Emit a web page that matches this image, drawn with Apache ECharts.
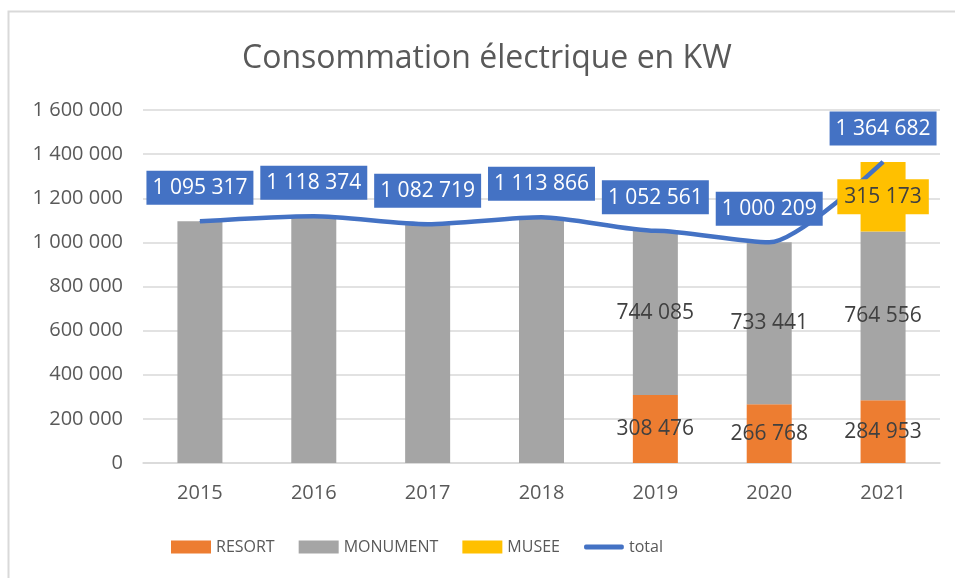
<!DOCTYPE html>
<html>
<head>
<meta charset="utf-8">
<script src="https://cdn.jsdelivr.net/npm/echarts@6/dist/echarts.min.js"></script>
<style>html,body{margin:0;padding:0;background:#fff}#c{width:955px;height:578px}</style>
</head>
<body>
<div id="c"></div>
<script>
var years = ['2015','2016','2017','2018','2019','2020','2021'];
var resort = [null, null, null, null, 308476, 266768, 284953];
var monument = [1095317, 1118374, 1082719, 1113866, 744085, 733441, 764556];
var monumentLabelShown = [false, false, false, false, true, true, true];
var musee = [null, null, null, null, null, null, 315173];
var total = [1095317, 1118374, 1082719, 1113866, 1052561, 1000209, 1364682];
var yTicks = [0, 200000, 400000, 600000, 800000, 1000000, 1200000, 1400000, 1600000];

var FONT = "'Open Sans', 'Noto Sans', sans-serif";
function fmt(v){ return String(Math.round(v)).replace(/\B(?=(\d{3})+(?!\d))/g, ' '); }

// label anchor for MUSEE segment (middle of its stacked segment), drawn above the line
var museeLabelPts = [];
years.forEach(function(y, i){
  if (musee[i] != null) {
    var base = (resort[i] || 0) + (monument[i] || 0);
    museeLabelPts.push({value:[y, base + musee[i] / 2], raw: musee[i]});
  }
});

var chart = echarts.init(document.getElementById('c'), null, {renderer:'canvas'});
chart.setOption({
  animation:false,
  backgroundColor:'#fff',
  textStyle:{fontFamily:FONT},
  title:{
    text:'Consommation électrique en KW',
    left:237, top:38,
    textStyle:{fontFamily:FONT, fontSize:32, fontWeight:'normal', color:'#595959'}
  },
  graphic:[{type:'rect', shape:{x:8.5, y:11.5, width:2000, height:2000}, style:{fill:'none', stroke:'#d9d9d9', lineWidth:2}, silent:true}],
  legend:{
    bottom:18, left:166, itemGap:24, itemWidth:40, itemHeight:13,
    textStyle:{fontFamily:FONT, fontSize:16, color:'#595959'},
    data:[
      {name:'RESORT', icon:'rect'},
      {name:'MONUMENT', icon:'rect'},
      {name:'MUSEE', icon:'rect'},
      {name:'total', icon:'path://M0,0 L40,0 L40,0.01 Z M2,4 L38,4 Q40,4 40,6.5 Q40,9 38,9 L2,9 Q0,9 0,6.5 Q0,4 2,4 Z M0,13 L40,13 L40,13.01 Z'}
    ]
  },
  grid:{left:143, right:15, top:110, bottom:115},
  xAxis:{
    type:'category', data:years,
    axisLine:{lineStyle:{color:'#d9d9d9', width:1.5}},
    axisTick:{show:false},
    axisLabel:{fontFamily:FONT, fontSize:20, color:'#595959', margin:20}
  },
  yAxis:{
    type:'value', min:0, max:1600000, interval:200000,
    axisLine:{show:false}, axisTick:{show:false},
    splitLine:{lineStyle:{color:'#d9d9d9', width:1.5}},
    axisLabel:{fontFamily:FONT, fontSize:20, color:'#595959', margin:20,
      formatter:function(v){ return yTicks.indexOf(v) >= 0 ? fmt(v) : ''; }}
  },
  series:[
    {name:'RESORT', type:'bar', stack:'s', barWidth:45, data:resort,
      itemStyle:{color:'#ED7D31'},
      label:{show:true, position:'inside', fontFamily:FONT, fontSize:21, color:'#404040',
        formatter:function(p){ return p.value==null?'':fmt(p.value); }}},
    {name:'MONUMENT', type:'bar', stack:'s', barWidth:45,
      data:monument.map(function(v,i){ return {value:v, label:{show:monumentLabelShown[i]}}; }),
      itemStyle:{color:'#A5A5A5'},
      label:{show:true, position:'inside', fontFamily:FONT, fontSize:21, color:'#404040',
        formatter:function(p){ return fmt(p.value); }}},
    {name:'MUSEE', type:'bar', stack:'s', barWidth:45, data:musee,
      itemStyle:{color:'#FFC000'},
      label:{show:false}},
    {name:'total', type:'line', smooth:0.25, smoothMonotone:'x', data:total, z:5,
      symbol:'circle', symbolSize:1, showSymbol:true,
      lineStyle:{color:'#4472C4', width:4.5},
      itemStyle:{color:'#4472C4'},
      labelLayout:{hideOverlap:false},
      label:{show:true, position:'top', distance:16, fontFamily:FONT, fontSize:21, color:'#fff',
        backgroundColor:'#4472C4', padding:[7,6,6,6],
        formatter:function(p){ return fmt(p.value); }}},
    {name:'MUSEE label', type:'scatter', data:museeLabelPts, z:8,
      symbol:'circle', symbolSize:1, itemStyle:{color:'#FFC000', opacity:1},
      tooltip:{show:false}, legendHoverLink:false,
      label:{show:true, position:'inside', fontFamily:FONT, fontSize:21, color:'#404040',
        backgroundColor:'#FFC000', padding:[8,7,6,7],
        formatter:function(p){ return fmt(p.data.raw); }}}
  ]
});
</script>
</body>
</html>
